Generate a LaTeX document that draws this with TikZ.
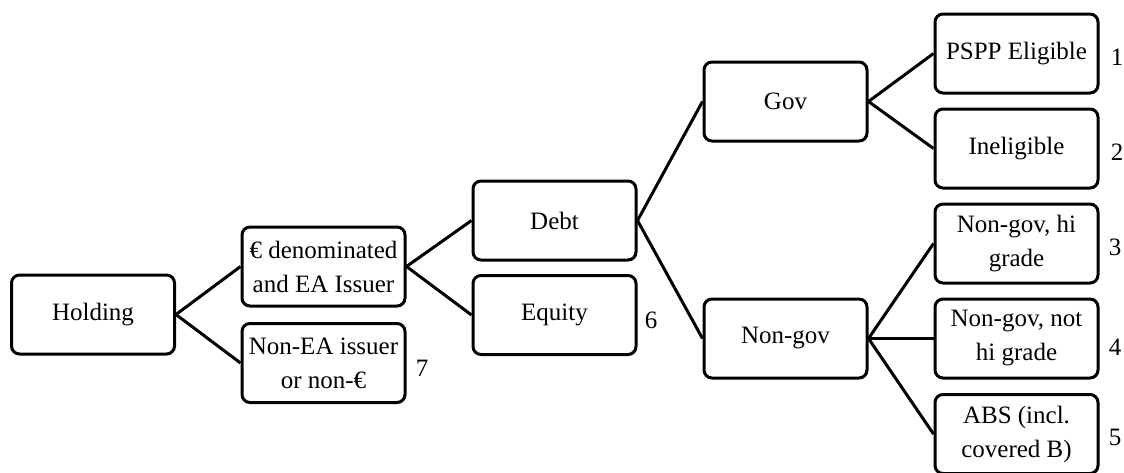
\documentclass[tikz,border=0pt]{standalone}
\usepackage{fontspec}
\setmainfont{Liberation Serif}
\begin{document}
\begin{tikzpicture}[x=1pt,y=-1pt,
  box/.style={draw=black,line width=3pt,rounded corners=8pt,minimum width=163pt,minimum height=79pt,align=center,inner sep=0pt,font=\fontsize{25}{34}\selectfont},
  num/.style={inner sep=0pt,font=\fontsize{25}{30}\selectfont},
  link/.style={line width=3pt}]
\useasboundingbox (0,0) rectangle (1124,472);
\node[box] (hold) at (93,314.5) {Holding};
\node[box] (euro) at (323.5,266.5) {€ denominated\\and EA Issuer};
\node[box] (nonea) at (323.5,363) {Non-EA issuer\\or non-€};
\node[box] (debt) at (554.5,220.5) {Debt};
\node[box] (equity) at (554.5,315) {Equity};
\node[box] (gov) at (785.5,101.5) {Gov};
\node[box] (nongov) at (785.5,338.5) {Non-gov};
\node[box] (pspp) at (1016.5,53.5) {PSPP Eligible};
\node[box] (inel) at (1016.5,148.5) {Ineligible};
\node[box] (hi) at (1016.5,243.5) {Non-gov, hi\\grade};
\node[box] (nothi) at (1016.5,338.5) {Non-gov, not\\hi grade};
\node[box] (abs) at (1016.5,434) {ABS (incl.\\covered B)};
\node[num] (n1) at (1117,57) {1};
\node[num] (n2) at (1117,152) {2};
\node[num] (n3) at (1115,247) {3};
\node[num] (n4) at (1115,347) {4};
\node[num] (n5) at (1115,437) {5};
\node[num] (n6) at (651,320) {6};
\node[num] (n7) at (422,368) {7};
\draw[link] (hold.east) -- (euro.west);
\draw[link] (hold.east) -- (nonea.west);
\draw[link] (euro.east) -- (debt.west);
\draw[link] (euro.east) -- (equity.west);
\draw[link] (debt.east) -- (gov.west);
\draw[link] (debt.east) -- (nongov.west);
\draw[link] (gov.east) -- (pspp.west);
\draw[link] (gov.east) -- (inel.west);
\draw[link] (nongov.east) -- (hi.west);
\draw[link] (nongov.east) -- (nothi.west);
\draw[link] (nongov.east) -- (abs.west);
\end{tikzpicture}
\end{document}
